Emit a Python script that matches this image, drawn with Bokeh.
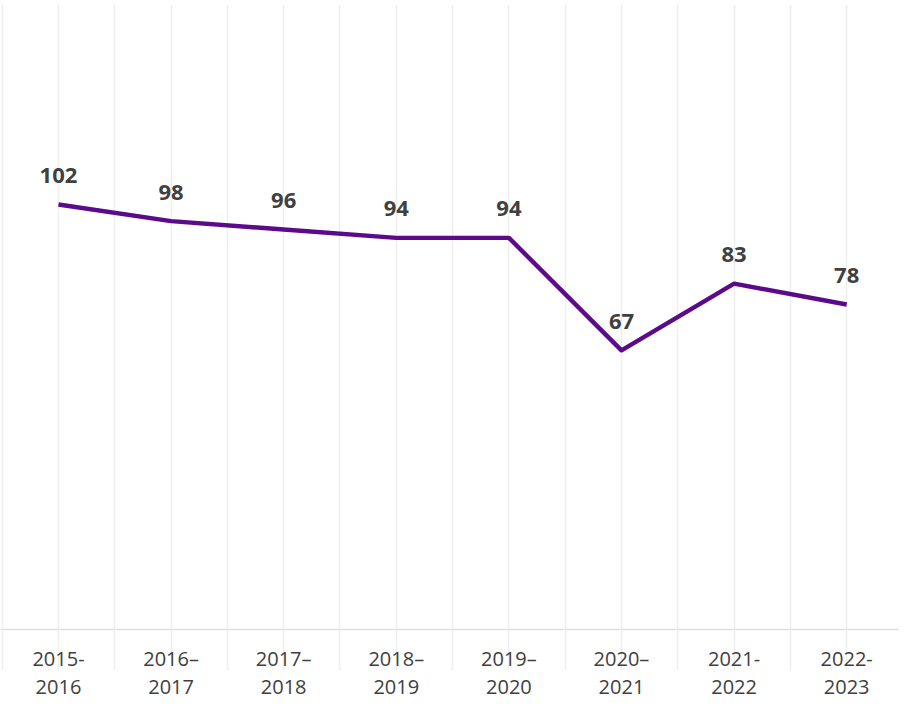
from bokeh.plotting import figure
from bokeh.models import Range1d, FixedTicker, ColumnDataSource
from bokeh.core.properties import value
from bokeh.embed import file_html
from bokeh.resources import INLINE

categories = ["2015-\n2016", "2016–\n2017", "2017–\n2018", "2018–\n2019",
              "2019–\n2020", "2020–\n2021", "2021-\n2022", "2022-\n2023"]
values = [102, 98, 96, 94, 94, 67, 83, 78]

xs = list(range(len(categories)))
src = ColumnDataSource(dict(x=xs, y=values, lab=[str(v) for v in values]))

p = figure(output_backend="svg", toolbar_location=None,
           width=899, height=702,
           x_range=Range1d(-0.515, 7.469), y_range=Range1d(0, 150),
           min_border_left=0, min_border_right=0, min_border_top=4, min_border_bottom=71)
p.outline_line_color = None
p.background_fill_color = "white"
p.border_fill_color = "white"

p.yaxis.visible = False
p.ygrid.grid_line_color = None

ticker = FixedTicker(ticks=xs, minor_ticks=[i - 0.5 for i in range(len(categories) + 1)])
p.xaxis.ticker = ticker
p.xgrid.ticker = ticker
p.xgrid.grid_line_color = "#efefef"
p.xgrid.grid_line_width = 1.5
p.xgrid.minor_grid_line_color = "#efefef"
p.xgrid.minor_grid_line_width = 1.5

p.xaxis.axis_line_color = "#dedede"
p.xaxis.axis_line_width = 1.5
p.xaxis.major_tick_out = 41
p.xaxis.major_tick_in = 0
p.xaxis.minor_tick_out = 41
p.xaxis.minor_tick_in = 0
p.xaxis.major_tick_line_color = "#efefef"
p.xaxis.major_tick_line_width = 1.5
p.xaxis.minor_tick_line_color = "#efefef"
p.xaxis.minor_tick_line_width = 1.5
p.xaxis.major_label_overrides = {i: c for i, c in zip(xs, categories)}
p.xaxis.major_label_text_font = "Open Sans"
p.xaxis.major_label_text_font_size = "20px"
p.xaxis.major_label_text_color = "#404040"
p.xaxis.major_label_text_line_height = 1.05
p.xaxis.major_label_standoff = -26

p.line("x", "y", source=src, line_color="#5C0A8C", line_width=4.4, line_join="round")
p.text("x", "y", text="lab", source=src, text_font=value("Open Sans"),
       text_font_style="bold", text_font_size="22px", text_color="#404040",
       text_align="center", text_baseline="middle", y_offset=-29)

open("out.html", "w").write(file_html(p, INLINE))
